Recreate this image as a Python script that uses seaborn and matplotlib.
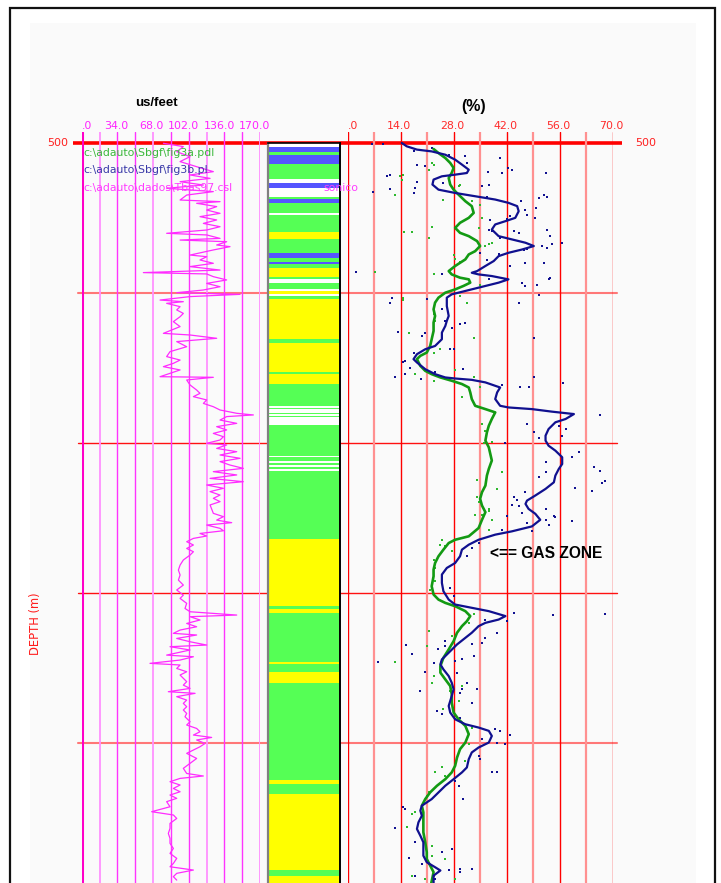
import numpy as np
import pandas as pd
import matplotlib
matplotlib.use("Agg")
import matplotlib.pyplot as plt
import matplotlib.transforms as mtransforms
from matplotlib.patches import Rectangle
import seaborn as sns

sns.set_style("white")
plt.rcParams["font.family"] = ["DejaVu Sans"]

# ---------------------------------------------------------------- data
sonic_ticks = [0, 34, 68, 102, 136, 170]
poro_ticks = [0, 14, 28, 42, 56, 70]
depth_marks = [500, 510, 520, 530, 540]

# sonic transit time (us/ft) versus depth (m)
sonic_log = [
    (500.02, 77.9), (500.24, 96.9), (500.58, 90.6), (500.91, 103.3), (501.24, 93.8),
    (501.58, 109.6), (501.91, 125.5), (502.13, 103.3), (502.36, 122.4), (502.58, 93.8),
    (502.80, 116.0), (503.02, 81.0), (503.24, 125.5), (503.47, 100.1), (503.80, 93.8),
    (503.91, 131.9), (504.02, 109.6), (504.24, 128.7), (504.47, 119.2), (504.69, 131.9),
    (504.91, 112.8), (505.13, 128.7), (505.36, 116.0), (505.58, 131.9), (505.80, 119.2),
    (506.02, 81.0), (506.13, 119.2), (506.36, 131.9), (506.47, 93.8), (506.58, 138.2),
    (506.80, 128.7), (506.91, 141.4), (507.13, 125.5), (507.47, 103.3), (507.58, 119.2),
    (507.80, 112.8), (508.02, 125.5), (508.24, 103.3), (508.47, 131.9), (508.64, 58.8),
    (508.73, 119.2), (508.91, 125.5), (509.13, 138.2), (509.36, 119.2), (509.58, 131.9),
    (509.80, 116.0), (509.98, 90.6), (510.09, 151.0), (510.24, 103.3), (510.47, 74.7),
    (510.58, 96.9), (510.69, 81.0), (510.91, 93.8), (511.13, 90.6), (511.36, 96.9),
    (511.58, 93.8), (511.91, 87.4), (512.24, 93.8), (512.69, 77.9), (512.80, 103.3),
    (513.02, 128.7), (513.24, 90.6), (513.58, 100.1), (513.91, 84.2), (514.24, 81.0),
    (514.47, 93.8), (514.69, 87.4), (514.91, 77.9), (515.13, 93.8), (515.36, 84.2),
    (515.58, 74.7), (515.62, 125.5), (515.80, 100.1), (516.13, 103.3), (516.47, 109.6),
    (516.69, 112.8), (516.91, 106.5), (517.13, 119.2), (517.36, 116.0), (517.58, 125.5),
    (517.80, 131.9), (518.02, 147.8), (518.13, 163.7), (518.24, 138.2), (518.47, 131.9),
    (518.69, 147.8), (518.91, 128.7), (519.13, 138.2), (519.36, 125.5), (519.58, 135.1),
    (519.80, 131.9), (520.02, 119.2), (520.13, 138.2), (520.36, 128.7), (520.58, 147.8),
    (520.80, 131.9), (521.02, 151.0), (521.24, 131.9), (521.47, 141.4), (521.69, 154.1),
    (521.91, 125.5), (522.13, 147.8), (522.36, 122.4), (522.58, 154.1), (522.80, 119.2),
    (523.02, 135.1), (523.24, 122.4), (523.47, 131.9), (523.69, 125.5), (523.91, 131.9),
    (524.13, 122.4), (524.69, 125.5), (524.91, 135.1), (525.14, 128.7), (525.31, 143.0),
    (525.47, 119.2), (525.69, 131.9), (525.85, 135.1), (526.03, 112.8), (526.20, 119.2),
    (526.36, 106.5), (526.58, 100.1), (526.80, 106.5), (527.03, 100.1), (527.25, 106.5),
    (527.47, 103.3), (527.80, 96.9), (528.14, 93.8), (528.47, 92.2), (528.80, 93.8),
    (529.14, 92.2), (529.47, 96.9), (529.80, 90.6), (530.14, 96.9), (530.36, 93.8),
    (530.69, 100.1), (531.03, 98.5), (531.25, 103.3), (531.47, 147.8), (531.58, 103.3),
    (531.80, 112.8), (532.03, 100.1), (532.25, 109.6), (532.47, 93.8), (532.69, 87.4),
    (532.80, 109.6), (533.03, 90.6), (533.25, 103.3), (533.47, 119.2), (533.58, 84.2),
    (533.80, 103.3), (534.14, 81.0), (534.25, 106.5), (534.47, 93.8), (534.69, 65.1),
    (534.80, 93.8), (535.03, 90.6), (535.25, 100.1), (535.47, 93.8), (535.69, 96.9),
    (535.91, 100.1), (536.14, 96.9), (536.36, 103.3), (536.58, 82.6), (536.69, 108.1),
    (536.91, 90.6), (537.14, 100.1), (537.36, 96.9), (537.58, 100.1), (537.80, 96.9),
    (538.03, 100.1), (538.25, 98.5), (538.58, 103.3), (538.80, 100.1), (539.03, 109.6),
    (539.25, 112.8), (539.47, 106.5), (539.63, 123.9), (539.80, 109.6), (540.03, 117.6),
    (540.25, 112.8), (540.47, 106.5), (540.69, 100.1), (541.03, 109.6), (541.36, 103.3),
    (541.69, 96.9), (542.03, 100.1), (542.20, 116.0), (542.36, 93.8), (542.58, 84.2),
    (542.80, 93.8), (543.03, 87.4), (543.25, 93.8), (543.47, 84.2), (543.69, 90.6),
    (543.91, 81.0), (544.25, 84.2), (544.58, 66.7), (544.80, 87.4), (545.03, 90.6),
    (545.36, 84.2), (545.69, 84.2), (546.03, 82.6), (546.36, 84.2), (546.69, 84.2),
    (547.03, 87.4), (547.36, 84.2), (547.69, 90.6), (548.03, 87.4), (548.25, 84.2),
    (548.47, 106.5), (548.69, 90.6), (548.91, 87.4), (549.14, 90.6),
]

# porosity curve fig3b (blue)
blue_depth = [
    500.0, 500.22, 500.44, 500.56, 500.78, 501.11, 501.44, 501.78, 502.0, 502.11,
    502.22, 502.44, 502.77, 503.11, 503.33, 503.55, 503.77, 503.99, 504.21, 504.55,
    504.99, 505.21, 505.43, 505.77, 506.21, 506.43, 506.65, 506.87, 507.10, 507.32,
    507.54, 507.87, 508.20, 508.54, 508.65, 508.76, 508.87, 509.09, 509.31, 509.53,
    509.76, 509.98, 510.09, 510.31, 510.87, 511.53, 511.86, 512.20, 512.64, 513.08,
    513.53, 513.75, 514.08, 514.41, 514.63, 515.08, 515.41, 515.63, 515.70, 515.79,
    515.96, 516.19, 516.30, 516.63, 517.07, 517.52, 517.63, 517.74, 517.91, 518.07,
    518.40, 518.62, 519.07, 519.51, 519.84, 520.18, 520.51, 520.95, 521.40, 521.73,
    522.17, 522.62, 523.06, 523.50, 523.84, 524.06, 524.39, 524.72, 525.12, 525.56,
    525.89, 526.11, 526.45, 526.78, 527.11, 527.55, 528.0, 528.33, 528.77, 529.33,
    529.88, 530.44, 530.77, 530.99, 531.21, 531.54, 531.77, 531.99, 532.21, 532.65,
    532.99, 533.43, 533.98, 534.43, 534.76, 535.09, 535.54, 535.98, 536.42, 536.87,
    537.53, 537.97, 538.42, 538.75, 538.97, 539.19, 539.53, 539.97, 540.30, 540.63,
    541.08, 541.63, 541.96, 542.41, 542.85, 543.29, 543.74, 544.18, 544.51, 544.85,
    545.29, 545.73, 546.18, 546.62, 547.51, 547.95, 548.28, 548.50, 548.84, 549.33,
]
blue_poro = [
    14.3, 15.6, 18.3, 22.2, 25.8, 28.4, 30.2, 32.0, 31.5, 28.4,
    24.9, 22.7, 22.4, 24.0, 28.4, 33.7, 39.0, 42.5, 44.8, 45.2,
    44.3, 41.7, 39.0, 38.1, 39.9, 43.4, 47.0, 49.2, 46.1, 42.5,
    39.9, 38.6, 36.4, 34.2, 32.8, 34.6, 38.1, 42.5, 39.9, 36.4,
    32.8, 29.3, 27.5, 26.2, 26.2, 26.7, 26.2, 25.8, 24.9, 24.9,
    23.1, 20.5, 18.3, 17.4, 18.3, 20.5, 23.1, 25.8, 28.4, 32.8,
    36.4, 39.0, 40.3, 39.5, 39.0, 40.3, 42.5, 48.7, 54.0, 59.8,
    57.6, 54.9, 53.1, 52.3, 52.3, 53.1, 54.9, 56.7, 56.7, 55.8,
    54.9, 54.5, 52.3, 49.6, 47.4, 47.0, 47.8, 49.6, 50.9, 48.7,
    43.4, 39.0, 34.6, 32.0, 30.2, 29.7, 28.4, 26.2, 24.9, 24.9,
    25.3, 26.7, 28.4, 32.8, 37.3, 41.7, 39.9, 36.4, 34.6, 32.8,
    31.1, 28.9, 26.7, 24.9, 24.5, 25.3, 26.7, 27.5, 28.0, 27.5,
    26.7, 27.1, 28.4, 31.1, 34.6, 37.3, 38.1, 37.3, 34.6, 32.8,
    32.0, 31.5, 30.2, 28.0, 25.8, 24.0, 22.2, 19.6, 19.2, 19.6,
    18.7, 18.3, 19.2, 20.0, 20.0, 20.9, 23.1, 24.5, 22.7, 22.7,
]

# porosity curve fig3a (green)
green_depth = [
    500.40, 500.67, 501.0, 501.33, 501.66, 501.99, 502.33, 502.77, 503.11, 503.44,
    503.88, 504.21, 504.66, 504.99, 505.32, 505.66, 505.99, 506.21, 506.54, 506.87,
    507.21, 507.43, 507.76, 508.20, 508.54, 508.76, 508.98, 509.09, 509.31, 509.53,
    509.76, 509.98, 510.31, 510.64, 511.09, 511.53, 511.97, 512.53, 513.08, 513.53,
    513.97, 514.19, 514.41, 514.86, 515.19, 515.41, 515.63, 515.85, 516.07, 516.30,
    516.63, 517.07, 517.52, 517.74, 517.96, 518.40, 518.85, 519.29, 519.84, 520.29,
    520.73, 521.17, 521.73, 522.17, 522.84, 523.28, 523.72, 524.17, 524.61, 525.12,
    525.67, 526.22, 526.45, 526.67, 527.11, 527.55, 528.0, 528.44, 528.88, 529.55,
    530.10, 530.44, 530.66, 530.88, 531.21, 531.54, 531.88, 532.21, 532.65, 533.21,
    533.76, 534.32, 534.87, 535.31, 535.76, 536.20, 536.75, 537.31, 537.97, 538.42,
    538.86, 539.41, 539.97, 540.41, 540.97, 541.52, 541.96, 542.41, 542.85, 543.29,
    543.74, 544.18, 544.62, 545.29, 545.95, 546.62, 547.28, 547.73, 548.17, 548.61,
    549.33,
]
green_poro = [
    22.7, 24.0, 25.8, 27.1, 28.0, 27.5, 26.7, 27.1, 28.0, 29.3,
    31.1, 32.8, 33.3, 32.0, 29.7, 28.4, 29.7, 32.0, 34.2, 35.0,
    33.7, 32.0, 31.1, 28.4, 26.7, 27.5, 29.7, 32.0, 32.4, 30.6,
    28.4, 25.8, 24.0, 23.1, 22.7, 23.1, 22.7, 22.7, 22.2, 21.8,
    20.9, 19.2, 18.3, 19.2, 20.5, 22.2, 24.5, 27.5, 30.2, 32.0,
    32.4, 32.8, 33.7, 36.4, 39.0, 38.1, 37.3, 36.8, 36.4, 37.3,
    37.7, 38.1, 37.3, 36.8, 36.4, 35.5, 35.0, 35.5, 36.4, 35.5,
    34.6, 32.0, 28.4, 26.7, 25.3, 24.0, 23.1, 22.7, 22.7, 22.2,
    22.7, 24.0, 25.8, 28.4, 31.1, 32.4, 31.5, 30.2, 28.9, 28.0,
    26.7, 25.3, 24.5, 24.5, 25.8, 27.1, 27.5, 27.5, 28.0, 29.3,
    31.1, 32.0, 31.1, 29.7, 28.9, 28.4, 27.5, 25.8, 23.6, 21.8,
    20.5, 19.6, 20.0, 20.0, 20.0, 20.5, 20.9, 20.9, 21.8, 22.7,
    22.1,
]

# individual porosity samples (depth m, porosity %)
blue_samples = [
    (500.05, 6.4), (500.05, 9.4), (500.56, 17.4), (501.55, 20.5), (501.44, 18.3),
    (500.33, 22.2), (500.78, 26.7), (500.89, 31.1), (501.33, 31.5), (501.0, 40.3),
    (501.66, 42.5), (501.78, 43.4), (502.0, 40.8), (501.93, 37.1), (502.0, 52.4),
    (502.22, 10.3), (502.11, 11.2), (502.62, 18.3), (503.0, 17.8), (503.33, 17.4),
    (503.06, 11.2), (503.28, 6.6), (502.66, 25.3), (502.77, 37.3), (502.88, 35.5),
    (503.59, 36.8), (503.66, 50.5), (503.44, 51.8), (503.59, 52.7), (503.88, 45.9),
    (504.32, 49.8), (504.44, 47.0), (504.77, 47.4), (504.88, 43.0), (505.10, 42.1),
    (504.99, 49.6), (505.15, 37.7), (505.77, 37.4), (505.88, 38.1), (506.36, 40.3),
    (505.88, 43.9), (506.03, 45.2), (505.77, 52.7), (506.21, 53.6), (506.65, 56.7),
    (506.87, 51.4), (506.99, 52.7), (506.76, 54.0), (507.14, 46.5), (507.10, 47.4),
    (507.32, 35.0), (507.43, 39.9), (507.81, 36.8), (508.20, 43.0), (508.03, 47.0),
    (508.03, 51.8), (508.58, 2.2), (508.76, 24.9), (509.09, 37.3), (509.53, 47.0),
    (509.36, 46.1), (509.47, 50.0), (509.09, 53.3), (508.98, 53.6), (510.16, 50.7),
    (510.64, 45.2), (510.35, 11.7), (510.64, 11.2), (510.42, 20.9), (510.98, 22.7),
    (511.09, 24.9), (511.86, 25.8), (512.31, 27.5), (512.08, 29.7), (511.97, 31.1),
    (512.59, 13.2), (512.68, 20.5), (512.86, 19.6), (513.97, 17.4), (514.63, 14.7),
    (514.52, 15.2), (515.03, 16.5), (515.41, 15.2), (515.63, 12.4), (515.74, 19.4),
    (515.30, 23.1), (513.75, 27.1), (513.70, 28.0), (515.08, 30.6), (516.14, 40.8),
    (516.30, 45.6), (516.30, 47.8), (515.59, 49.2), (516.03, 56.8), (518.74, 47.4),
    (519.29, 49.2), (519.67, 50.5), (518.85, 55.8), (519.51, 56.7), (519.07, 57.6),
    (518.14, 66.6), (520.62, 61.1), (520.95, 59.3), (521.28, 52.3), (522.28, 50.5),
    (521.95, 52.3), (521.62, 65.1), (521.88, 66.8), (522.55, 68.1), (522.68, 67.3),
    (523.01, 60.2), (523.17, 64.6), (523.28, 47.0), (523.61, 43.9), (523.83, 44.8),
    (524.12, 43.4), (524.21, 45.2), (524.39, 52.3), (524.94, 54.9), (512.97, 49.2),
    (520.02, 41.7), (524.89, 42.1), (525.12, 52.3), (524.89, 54.5), (525.45, 53.1),
    (525.23, 59.3), (524.67, 46.1), (525.34, 47.4), (525.89, 48.7), (525.78, 40.8),
    (526.67, 34.6), (527.0, 32.8), (527.55, 31.5), (529.66, 27.1), (530.21, 28.0),
    (531.32, 43.9), (531.88, 42.1), (531.50, 54.3), (531.39, 68.0), (531.77, 36.4),
    (532.65, 39.5), (533.32, 35.5), (532.99, 36.4), (533.43, 32.8), (534.20, 33.3),
    (534.43, 30.2), (534.54, 28.4), (533.21, 25.8), (533.54, 25.8), (533.76, 24.0),
    (533.50, 15.4), (534.09, 16.9), (534.60, 8.1), (534.69, 22.7), (535.25, 20.5),
    (536.53, 19.2), (535.31, 28.9), (535.98, 31.5), (536.42, 34.2), (537.31, 32.8),
    (536.42, 30.2), (536.64, 29.7), (537.86, 23.6), (538.08, 24.9), (538.42, 28.4),
    (538.31, 29.7), (539.04, 39.0), (539.19, 40.3), (539.48, 43.0), (540.08, 41.7),
    (539.97, 39.5), (539.75, 35.5), (540.86, 34.6), (541.08, 35.0), (541.96, 38.1),
    (541.92, 39.5), (542.52, 28.4), (542.85, 29.3), (543.74, 30.6), (544.40, 15.2),
    (544.29, 14.7), (545.69, 12.5), (546.62, 17.8), (547.68, 16.1), (548.06, 19.6),
    (548.50, 26.7), (548.39, 29.7), (548.39, 32.8), (548.61, 29.7), (547.06, 27.5),
    (548.84, 17.8), (547.28, 24.9), (549.06, 23.1),
]
green_samples = [
    (502.22, 13.9), (502.44, 14.3), (502.11, 14.7), (503.48, 12.5), (501.33, 22.2),
    (501.44, 22.7), (501.78, 21.4), (503.77, 25.3), (502.88, 29.3), (502.77, 29.7),
    (503.88, 32.8), (504.10, 35.0), (504.99, 35.5), (505.66, 34.6), (505.59, 22.2),
    (506.32, 21.4), (505.94, 16.9), (505.94, 15.0), (506.87, 36.4), (506.76, 37.3),
    (506.65, 38.1), (507.50, 28.0), (507.76, 28.4), (507.94, 29.7), (508.76, 22.7),
    (508.58, 7.2), (509.47, 35.0), (510.20, 29.7), (510.64, 31.5), (510.47, 14.7),
    (510.31, 14.7), (511.42, 22.7), (511.86, 23.1), (513.70, 24.5), (513.97, 22.7),
    (512.64, 16.1), (512.97, 33.3), (515.41, 17.8), (515.85, 22.7), (515.14, 28.4),
    (516.96, 30.2), (515.63, 33.3), (516.30, 35.0), (518.74, 35.5), (519.18, 36.4),
    (520.0, 35.9), (519.95, 38.1), (521.95, 40.8), (523.06, 39.5), (522.50, 34.2),
    (523.61, 34.2), (523.94, 34.6), (524.39, 37.3), (524.83, 35.5), (524.83, 33.7),
    (524.56, 37.3), (525.12, 38.1), (525.78, 37.3), (526.45, 24.9), (526.78, 24.5),
    (526.89, 25.8), (527.22, 27.5), (527.78, 22.7), (528.33, 23.1), (529.77, 21.8),
    (529.22, 23.1), (531.43, 33.3), (531.99, 32.0), (532.43, 29.7), (532.54, 21.4),
    (533.54, 20.9), (532.87, 27.5), (534.60, 12.5), (535.54, 22.7), (535.98, 22.2),
    (536.53, 27.1), (536.20, 30.2), (537.20, 29.3), (537.75, 25.3), (538.97, 32.8),
    (540.08, 32.0), (541.19, 31.1), (541.63, 24.9), (541.96, 23.1), (542.19, 25.8),
    (543.29, 21.4), (543.52, 20.9), (544.62, 17.8), (544.74, 16.9), (545.62, 15.6),
    (546.84, 22.2), (547.51, 22.2), (547.73, 25.8), (548.84, 16.9), (548.84, 22.7),
    (548.06, 21.4), (549.06, 20.5), (549.06, 28.4),
]

# lithology column: top of each band (m) and its class
litho_top = [
    500.0, 500.27, 500.6, 500.8, 501.4, 502.4, 502.67, 503.0, 503.6, 503.73,
    504.0, 504.67, 504.8, 505.93, 506.4, 507.33, 507.67, 507.93, 508.07, 508.33,
    508.93, 509.07, 509.33, 509.73, 509.87, 510.07, 510.2, 510.4, 513.07, 513.33,
    515.27, 515.4, 516.07, 517.53, 517.67, 517.73, 518.0, 518.07, 518.2, 518.27,
    518.8, 520.87, 520.93, 521.2, 521.33, 521.47, 521.6, 521.73, 521.87, 526.4,
    530.87, 531.07, 531.33, 534.6, 534.73, 535.27, 536.0, 542.47, 542.73, 543.4,
    548.47, 548.87,
]
litho_class = list(
    "WBGBGWBWGB"
    "GWGYGBGBGY"
    "GWGWYWGYGY"
    "GYGWGWGWGW"
    "GWGWGWGWGY"
    "GYGYGYGYGY"
    "GY"
)
litho_base = 549.34

# ---------------------------------------------------------------- layout
W, H = 721, 883
fig = plt.figure(figsize=(W / 100, H / 100), dpi=100)
fig.patch.set_facecolor("white")


def fx(px):
    return px / W


def fy(py):
    return 1 - py / H


# outer frame and light panel
fig.add_artist(Rectangle((fx(30), 0), fx(696) - fx(30), fy(23), transform=fig.transFigure,
                         facecolor="#fafafa", edgecolor="none", zorder=-2))
fig.add_artist(Rectangle((fx(10), -0.05), fx(715) - fx(10), fy(8) + 0.05,
                         transform=fig.transFigure, facecolor="none",
                         edgecolor="#111111", linewidth=1.6, zorder=-1))

px_per_m = 15.0
depth_top_grid = 500 - (143 - 132) / px_per_m
depth_bottom = 500 + (H - 143) / px_per_m
track_h = fy(132)


def clean(ax):
    ax.set_facecolor("none")
    for s in ax.spines.values():
        s.set_visible(False)
    ax.set_xticks([])
    ax.set_yticks([])
    ax.set_xlabel("")
    ax.set_ylabel("")


# depth grid behind all tracks
ax_bg = fig.add_axes([fx(73), 0, fx(622) - fx(73), track_h])
ax_bg.set_xlim(0, 1)
ax_bg.set_ylim(depth_bottom, depth_top_grid)
clean(ax_bg)
ax_bg.axhline(depth_marks[0], color="#ff0000", linewidth=2.6)
thin_styles = {510: ("#ff7777", 1.5), 520: ("#ff1111", 1.0), 530: ("#ff1111", 1.0),
               540: ("#ff7777", 1.5)}
for d in depth_marks[1:]:
    c, lw = thin_styles[d]
    ax_bg.axhline(d, xmin=5 / 549, xmax=544 / 549, color=c, linewidth=lw)

# sonic track
ax_s = fig.add_axes([fx(81.7), 0, (260 - 81.7) / W, track_h], zorder=2)
ax_s.set_xlim(0, 170)
ax_s.set_ylim(depth_bottom, depth_top_grid)
clean(ax_s)
sonic_grid = np.arange(0, 171, 17)
for i, v in enumerate(sonic_grid):
    if i == 0:
        ax_s.axvline(v, color="#ff00c8", linewidth=2.2)
    elif i % 3 == 1:
        ax_s.axvline(v, color="#ff90ff", linewidth=1.3)
    else:
        ax_s.axvline(v, color="#ff33ff", linewidth=1.0)
son = pd.DataFrame(sonic_log, columns=["depth", "dt"])
sns.lineplot(data=son, x="dt", y="depth", sort=False, estimator=None, ax=ax_s,
             color="#ff2cff", linewidth=0.9, legend=False)
ax_s.set_xlim(0, 170)
ax_s.set_ylim(depth_bottom, depth_top_grid)
clean(ax_s)

# porosity track
ax_p = fig.add_axes([fx(347.7), 0, (612.5 - 347.7) / W, track_h], zorder=2)
ax_p.set_xlim(0, 70)
ax_p.set_ylim(depth_bottom, depth_top_grid)
clean(ax_p)
for v in np.arange(0, 71, 7):
    if v % 14 == 0:
        ax_p.axvline(v, color="#ff0000", linewidth=1.0)
    else:
        ax_p.axvline(v, color="#ff9090", linewidth=1.6)

bs = pd.DataFrame(blue_samples, columns=["depth", "poro"])
gs = pd.DataFrame(green_samples, columns=["depth", "poro"])
sns.scatterplot(data=bs, x="poro", y="depth", ax=ax_p, marker="s", s=4,
                color="#101090", linewidth=0, legend=False, zorder=3)
sns.scatterplot(data=gs, x="poro", y="depth", ax=ax_p, marker="s", s=4,
                color="#2db82d", linewidth=0, legend=False, zorder=3)
sns.lineplot(x=green_poro, y=green_depth, sort=False, estimator=None, ax=ax_p,
             color="#139a13", linewidth=1.9, legend=False, zorder=4)
sns.lineplot(x=blue_poro, y=blue_depth, sort=False, estimator=None, ax=ax_p,
             color="#10108f", linewidth=1.6, legend=False, zorder=5)
ax_p.set_xlim(0, 70)
ax_p.set_ylim(depth_bottom, depth_top_grid)
clean(ax_p)

# lithology column
ax_l = fig.add_axes([fx(268), 0, (340 - 268) / W, fy(143)], zorder=3)
litho_colors = {"W": "#ffffff", "B": "#5555ff", "G": "#55ff55", "Y": "#ffff00"}
tops = np.array(litho_top)
bases = np.append(tops[1:], litho_base)
ax_l.barh(tops, width=1, height=bases - tops, left=0, align="edge",
          color=[litho_colors[c] for c in litho_class], edgecolor="none")
ax_l.set_xlim(0, 1)
ax_l.set_ylim(depth_bottom, 500)
ax_l.set_xticks([])
ax_l.set_yticks([])
for side, col, lw in [("left", "#808080", 1.6), ("right", "#000000", 1.4),
                      ("top", "#000000", 1.2), ("bottom", "#000000", 0)]:
    ax_l.spines[side].set_color(col)
    ax_l.spines[side].set_linewidth(lw)

# ---------------------------------------------------------------- text
tick_y = fy(126)
for ax, ticks, col in [(ax_s, sonic_ticks, "#ff22ff"), (ax_p, poro_ticks, "#ff2a2a")]:
    tr = mtransforms.blended_transform_factory(ax.transData, fig.transFigure)
    tr = mtransforms.offset_copy(tr, fig=fig, x=7.6, y=0, units="points")
    for v in ticks:
        label = f"{v:.1f}".lstrip("0") if v == 0 else f"{v:.1f}"
        fig.text(v, tick_y, label, transform=tr, ha="right", va="center",
                 fontsize=7.9, color=col)

fig.text(fx(156), fy(103), "us/feet", ha="center", va="center", fontsize=9.5,
         fontweight="bold", family="Liberation Sans", color="black")
fig.text(fx(474), fy(107), "(%)", ha="center", va="center", fontsize=11.5,
         fontweight="bold", family="Liberation Sans", color="black")
fig.text(fx(68), fy(143), "500", ha="right", va="center", fontsize=8, color="#ff2020")
fig.text(fx(635), fy(143), "500", ha="left", va="center", fontsize=8, color="#ff2020")
fig.text(fx(35), fy(624), "DEPTH (m)", ha="center", va="center", rotation=90,
         fontsize=8.3, color="#ff1a1a")

fig.text(fx(83), fy(153), r"c:\adauto\Sbgf\fig3a.pdl", ha="left", va="center",
         fontsize=7.8, color="#3cb83c", zorder=10)
fig.text(fx(83), fy(170), r"c:\adauto\Sbgf\fig3b.pl", ha="left", va="center",
         fontsize=7.8, color="#3a3aa8", zorder=10)
fig.text(fx(83), fy(188), r"c:\adauto\dados\Tbas97.csl", ha="left", va="center",
         fontsize=7.8, color="#ff3cff", zorder=10)
fig.text(fx(323), fy(188), "sonico", ha="left", va="center",
         fontsize=7.8, color="#ff3cff", zorder=10)

fig.text(fx(490), fy(554), "<== GAS ZONE", ha="left", va="center", fontsize=11.2,
         fontweight="bold", family="Liberation Sans", color="black", zorder=10)

fig.savefig("out.png", dpi=100, facecolor="white")
